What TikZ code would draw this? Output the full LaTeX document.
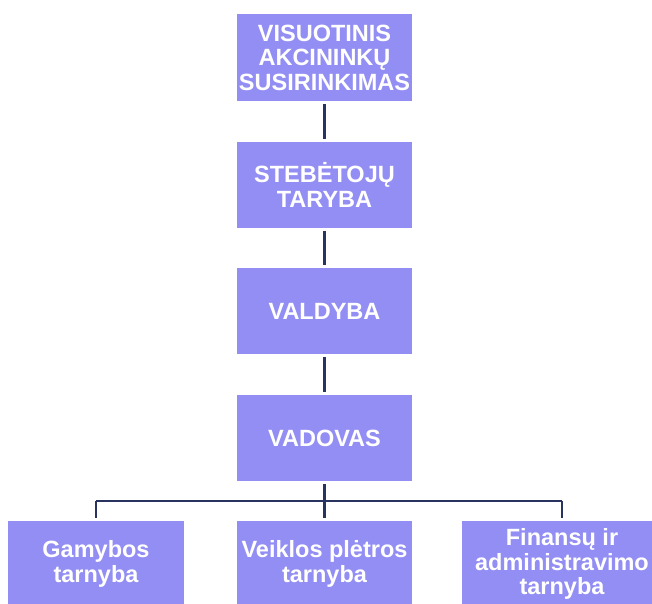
\documentclass[tikz,border=0pt]{standalone}
\usepackage{fontspec}
\setmainfont{Liberation Sans}
\usepackage{tikz}
\definecolor{boxfill}{RGB}{147,142,243}
\definecolor{linkcol}{RGB}{40,52,95}
\tikzstyle{unit}=[rectangle, fill=boxfill, text=white, inner sep=0pt, minimum width=175pt, minimum height=86pt, align=center, font=\fontsize{23.5}{24.5}\selectfont\bfseries]
\tikzstyle{link}=[draw=linkcol, line width=2.4pt]

\begin{document}
\begin{tikzpicture}[x=1pt, y=-1pt]
                    \useasboundingbox (0,0) rectangle (652,603);
                    \clip (0,0) rectangle (652,603);
                    \node[unit, minimum height=87pt] (vas) at (324.5, 57.5) {VISUOTINIS\\AKCININKŲ\\SUSIRINKIMAS};
                    \node[unit] (st) at (324.5, 185) {STEBĖTOJŲ\\TARYBA};
                    \node[unit] (vb) at (324.5, 311) {VALDYBA};
                    \node[unit] (vd) at (324.5, 438) {VADOVAS};
                    \node[unit, minimum width=176pt] (gam) at (96, 564) {Gamybos\\tarnyba};
                    \node[unit] (plet) at (324.5, 564) {Veiklos plėtros\\tarnyba};
                    \node[unit, minimum width=200pt] (fin) at (562, 564) {Finansų ir\\administravimo\\tarnyba};
                    \coordinate (bus) at (324.5, 501);
                    \draw[link, shorten <=3pt, shorten >=3pt] (vas)--(st);
                    \draw[link, shorten <=3pt, shorten >=3pt] (st)--(vb);
                    \draw[link, shorten <=3pt, shorten >=3pt] (vb)--(vd);
                    \draw[link, shorten <=3pt] (vd)--(bus);
                    \draw[link] (gam |- bus)--(fin |- bus);
                    \draw[link, shorten >=3pt] (gam |- bus)--(gam);
                    \draw[link, shorten >=3pt] (bus)--(plet);
                    \draw[link, shorten >=3pt] (fin |- bus)--(fin);
                \end{tikzpicture}
\end{document}
